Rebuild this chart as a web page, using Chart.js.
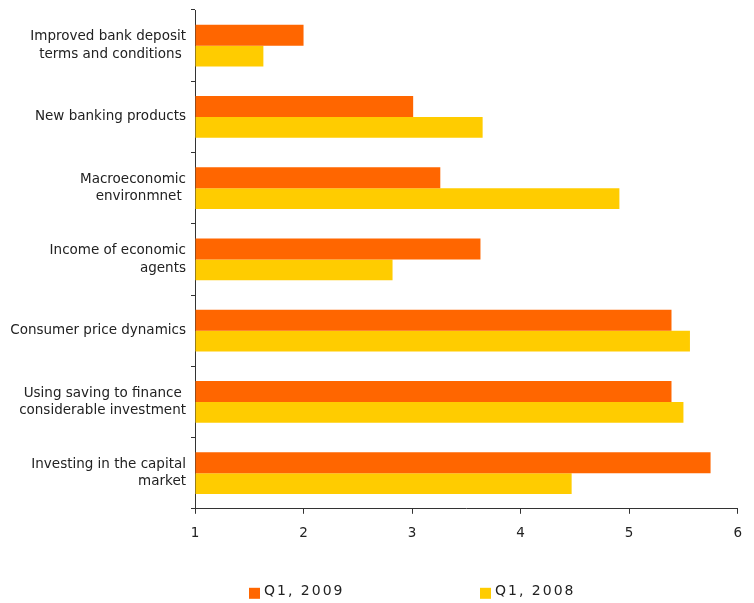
<!DOCTYPE html>
<html>
<head>
<meta charset="utf-8">
<script src="https://cdn.jsdelivr.net/npm/chart.js@4/dist/chart.umd.min.js"></script>
<style>
  html, body { margin: 0; padding: 0; background: #fff; }
</style>
</head>
<body>
<canvas id="chart" width="754" height="603"></canvas>
<script>
const categories = [
  ['Improved bank deposit', 'terms and conditions '],
  'New banking products',
  ['Macroeconomic', 'environmnet '],
  ['Income of economic', 'agents'],
  'Consumer price dynamics',
  ['Using saving to finance ', 'considerable investment'],
  ['Investing in the capital', 'market']
];
const q1_2009 = [2.00, 3.01, 3.26, 3.63, 5.39, 5.39, 5.75];
const q1_2008 = [1.63, 3.65, 4.91, 2.82, 5.56, 5.50, 4.47];
const xTicks = [1, 2, 3, 4, 5, 6];

const textColor = '#222';
const axisColor = '#333';
const fontFamily = '"DejaVu Sans", Verdana, sans-serif';
const font = { family: fontFamily, size: 13.5 };

// legend drawn by hand so the two entries sit far apart like the original
const bottomLegend = {
  id: 'bottomLegend',
  afterDraw(chart) {
    const ctx = chart.ctx;
    const xs = [249, 480];
    const y = chart.chartArea.bottom + 83;
    ctx.save();
    ctx.font = '14px ' + fontFamily;
    ctx.letterSpacing = '2px';
    ctx.textBaseline = 'middle';
    ctx.textAlign = 'left';
    chart.data.datasets.forEach((ds, i) => {
      ctx.fillStyle = ds.backgroundColor;
      ctx.fillRect(xs[i], y - 4, 11, 11);
      ctx.fillStyle = textColor;
      ctx.fillText(ds.label, xs[i] + 15, y);
    });
    ctx.restore();
  }
};

new Chart(document.getElementById('chart'), {
  type: 'bar',
  data: {
    labels: categories,
    datasets: [
      {
        label: 'Q1, 2009',
        data: q1_2009,
        backgroundColor: '#FF6600',
        base: 1,
        categoryPercentage: 0.585,
        barPercentage: 1.0
      },
      {
        label: 'Q1, 2008',
        data: q1_2008,
        backgroundColor: '#FFCC00',
        base: 1,
        categoryPercentage: 0.585,
        barPercentage: 1.0
      }
    ]
  },
  options: {
    indexAxis: 'y',
    responsive: false,
    animation: false,
    layout: { padding: { top: 10, right: 16, bottom: 49, left: 0 } },
    scales: {
      x: {
        min: xTicks[0],
        max: xTicks[xTicks.length - 1],
        afterBuildTicks: (scale) => { scale.ticks = xTicks.map(v => ({ value: v })); },
        grid: { drawOnChartArea: false, drawTicks: true, tickLength: 5, color: axisColor },
        border: { color: axisColor, width: 1 },
        ticks: { color: textColor, font: font, padding: 12, maxRotation: 0 }
      },
      y: {
        afterFit: (scale) => {
          scale.width = 195;
          scale.paddingTop = 0;
          scale.paddingBottom = 0;
        },
        grid: { drawOnChartArea: false, drawTicks: true, tickLength: 4, color: axisColor, offset: true },
        border: { color: axisColor, width: 1 },
        ticks: { color: textColor, font: { ...font, lineHeight: 1.3 }, padding: 5 }
      }
    },
    plugins: {
      legend: { display: false },
      tooltip: { enabled: false }
    }
  },
  plugins: [bottomLegend]
});
</script>
</body>
</html>
